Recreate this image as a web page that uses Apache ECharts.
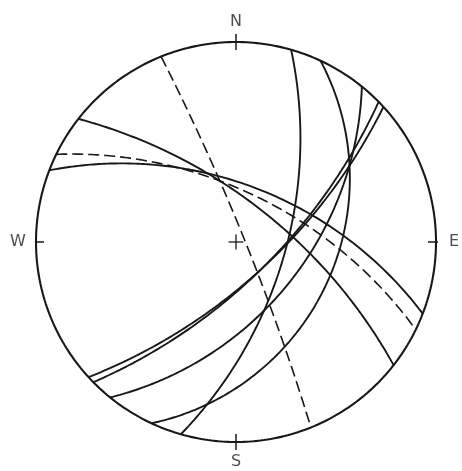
<!DOCTYPE html>
<html>
<head>
<meta charset="utf-8">
<script src="https://cdn.jsdelivr.net/npm/echarts@6/dist/echarts.min.js"></script>
<style>
  html, body { margin: 0; padding: 0; background: #ffffff; }
  #chart { width: 462px; height: 471px; }
</style>
</head>
<body>
<div id="chart"></div>
<script>
// Planes plotted as great circles on a lower-hemisphere stereonet (equal-angle).
const planeDipDirections = [68, 106, 115, 129, 135.5, 137.5, 38, 21, 26];
const planeDips          = [85, 62, 37, 53, 69, 69, 67, 58, 62];
const planeGroups        = ['inferred', 'measured', 'measured', 'measured', 'measured',
                            'measured', 'measured', 'measured', 'inferred'];

// Compass labels around the primitive circle.
const compassLabels   = ['N', 'E', 'S', 'W'];
const compassAzimuths = [0, 90, 180, 270];

const RAD = Math.PI / 180;

// Stereographic projection of a line (trend/plunge in radians) to unit-circle coords.
function project(trend, plunge) {
  const r = Math.tan((Math.PI / 2 - plunge) / 2);
  return [r * Math.sin(trend), r * Math.cos(trend)];
}

// Trace a plane's great circle from one strike end to the other.
function greatCircle(dipDir, dip) {
  const s = (dipDir - 90) * RAD, d = dipDir * RAD, p = dip * RAD;
  const pts = [];
  for (let i = 0; i <= 180; i++) {
    const t = i * RAD;
    const e = Math.cos(t) * Math.sin(s) + Math.sin(t) * Math.sin(d) * Math.cos(p);
    const n = Math.cos(t) * Math.cos(s) + Math.sin(t) * Math.cos(d) * Math.cos(p);
    const down = Math.min(1, Math.sin(t) * Math.sin(p));
    pts.push(project(Math.atan2(e, n), Math.asin(down)));
  }
  return pts;
}

function primitive() {
  const pts = [];
  for (let i = 0; i <= 360; i++) pts.push([Math.sin(i * RAD), Math.cos(i * RAD)]);
  return pts;
}

const INK = '#181818';
const series = [];

series.push({
  type: 'line', data: primitive(), showSymbol: false, silent: true, clip: false,
  lineStyle: { color: INK, width: 2.1 }
});

planeDipDirections.forEach((dd, i) => {
  const inferred = planeGroups[i] === 'inferred';
  series.push({
    type: 'line', data: greatCircle(dd, planeDips[i]), showSymbol: false, silent: true,
    clip: false,
    lineStyle: { color: INK, width: inferred ? 1.6 : 1.9, type: inferred ? [11, 5] : 'solid' }
  });
});

// Tick marks across the primitive at each compass point.
compassAzimuths.forEach(az => {
  const a = az * RAD;
  series.push({
    type: 'line', showSymbol: false, silent: true, clip: false,
    data: [[0.96 * Math.sin(a), 0.96 * Math.cos(a)], [1.04 * Math.sin(a), 1.04 * Math.cos(a)]],
    lineStyle: { color: INK, width: 1.5 }
  });
});

// Centre cross.
[[[-0.037, 0], [0.037, 0]], [[0, -0.037], [0, 0.037]]].forEach(seg => {
  series.push({
    type: 'line', data: seg, showSymbol: false, silent: true, clip: false,
    lineStyle: { color: INK, width: 1.3 }
  });
});

// Compass letters.
series.push({
  type: 'scatter', silent: true, clip: false, symbolSize: 0,
  data: compassLabels.map((name, i) => {
    const a = compassAzimuths[i] * RAD;
    const rr = (i % 2 === 0) ? 1.1 : 1.09;
    return { name, value: [rr * Math.sin(a), rr * Math.cos(a)] };
  }),
  label: {
    show: true, position: 'inside', formatter: p => p.name,
    color: '#222222', fontSize: 16, fontFamily: 'DejaVu Sans'
  }
});

const chart = echarts.init(document.getElementById('chart'), null, { renderer: 'canvas' });
chart.setOption({
  backgroundColor: '#ffffff',
  animation: false,
  grid: { left: 36, top: 42, width: 400, height: 400 },
  xAxis: { type: 'value', min: -1, max: 1, show: false },
  yAxis: { type: 'value', min: -1, max: 1, show: false },
  series
});
</script>
</body>
</html>
